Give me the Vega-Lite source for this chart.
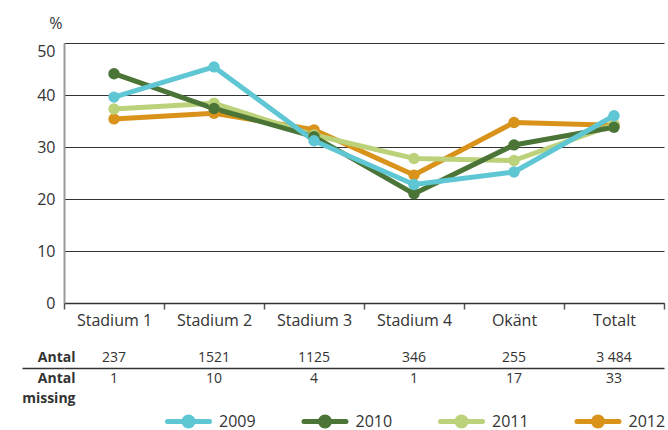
{
  "$schema": "https://vega.github.io/schema/vega-lite/v6.json",
  "padding": {"left": 21, "top": 15, "right": 0, "bottom": 0},
  "config": {
    "font": "Open Sans",
    "view": {"stroke": null},
    "axis": {"labelColor": "#333", "titleColor": "#333"},
    "text": {"color": "#333"}
  },
  "datasets": {
    "lines": [
      {"stage": "Stadium 1", "year": "2012", "pct": 35.4},
      {"stage": "Stadium 2", "year": "2012", "pct": 36.5},
      {"stage": "Stadium 3", "year": "2012", "pct": 33.3},
      {"stage": "Stadium 4", "year": "2012", "pct": 24.6},
      {"stage": "Okänt", "year": "2012", "pct": 34.7},
      {"stage": "Totalt", "year": "2012", "pct": 34.2},
      {"stage": "Stadium 1", "year": "2011", "pct": 37.3},
      {"stage": "Stadium 2", "year": "2011", "pct": 38.4},
      {"stage": "Stadium 3", "year": "2011", "pct": 32.3},
      {"stage": "Stadium 4", "year": "2011", "pct": 27.8},
      {"stage": "Okänt", "year": "2011", "pct": 27.4},
      {"stage": "Totalt", "year": "2011", "pct": 34.3},
      {"stage": "Stadium 1", "year": "2010", "pct": 44.1},
      {"stage": "Stadium 2", "year": "2010", "pct": 37.4},
      {"stage": "Stadium 3", "year": "2010", "pct": 32.0},
      {"stage": "Stadium 4", "year": "2010", "pct": 21.0},
      {"stage": "Okänt", "year": "2010", "pct": 30.4},
      {"stage": "Totalt", "year": "2010", "pct": 33.8},
      {"stage": "Stadium 1", "year": "2009", "pct": 39.6},
      {"stage": "Stadium 2", "year": "2009", "pct": 45.4},
      {"stage": "Stadium 3", "year": "2009", "pct": 31.2},
      {"stage": "Stadium 4", "year": "2009", "pct": 22.8},
      {"stage": "Okänt", "year": "2009", "pct": 25.2},
      {"stage": "Totalt", "year": "2009", "pct": 36.0}
    ],
    "table": [
      {"stage": "Stadium 1", "row": "Antal", "value": "237"},
      {"stage": "Stadium 2", "row": "Antal", "value": "1521"},
      {"stage": "Stadium 3", "row": "Antal", "value": "1125"},
      {"stage": "Stadium 4", "row": "Antal", "value": "346"},
      {"stage": "Okänt", "row": "Antal", "value": "255"},
      {"stage": "Totalt", "row": "Antal", "value": "3 484"},
      {"stage": "Stadium 1", "row": "Antal missing", "value": "1"},
      {"stage": "Stadium 2", "row": "Antal missing", "value": "10"},
      {"stage": "Stadium 3", "row": "Antal missing", "value": "4"},
      {"stage": "Stadium 4", "row": "Antal missing", "value": "1"},
      {"stage": "Okänt", "row": "Antal missing", "value": "17"},
      {"stage": "Totalt", "row": "Antal missing", "value": "33"}
    ]
  },
  "spacing": 22,
  "vconcat": [
    {
      "width": 600,
      "height": 260,
      "data": {"name": "lines"},
      "encoding": {
        "x": {
          "field": "stage", "type": "nominal",
          "sort": ["Stadium 1", "Stadium 2", "Stadium 3", "Stadium 4", "Okänt", "Totalt"],
          "scale": {"type": "band", "paddingInner": 0, "paddingOuter": 0},
          "axis": {
            "title": null, "labelAngle": 0, "labelFontSize": 16, "labelBaseline": "top",
            "labelPadding": 3, "tickBand": "extent", "tickSize": 6, "tickColor": "#555",
            "tickWidth": 1.5, "domainColor": "#333", "domainWidth": 1.5
          }
        },
        "y": {
          "field": "pct", "type": "quantitative",
          "scale": {"domain": [0, 50], "nice": false},
          "axis": {
            "title": "%", "titleAngle": 0, "titleAlign": "right", "titleBaseline": "middle",
            "titleX": -2, "titleY": -20, "titleFontSize": 16, "titleFontWeight": "normal",
            "values": [0, 10, 20, 30, 40, 50], "labelFontSize": 16, "labelPadding": 9,
            "labelBaseline": {"condition": {"test": "datum.value == 50", "value": "top"}, "value": "middle"},
            "ticks": false, "domainColor": "#999", "domainWidth": 2,
            "grid": true, "gridColor": "#333", "gridWidth": 1
          }
        },
        "color": {
          "field": "year", "type": "nominal",
          "scale": {"domain": ["2009", "2010", "2011", "2012"], "range": ["#5fc6d4", "#4b7437", "#bcd27a", "#d9931a"]},
          "legend": {
            "orient": "none", "legendX": 112, "legendY": 366, "direction": "horizontal", "title": null,
            "symbolType": "M-2.1,0H2.1M-0.45,0A0.45,0.45 0 1,0 0.45,0A0.45,0.45 0 1,0 -0.45,0Z",
            "symbolSize": 400, "symbolStrokeWidth": 5, "labelFontSize": 16, "labelOffset": 18,
            "columnPadding": 37.5, "labelColor": "#333",
            "encode": {"symbols": {"update": {
              "fill": {"scale": "color", "field": "value"},
              "stroke": {"scale": "color", "field": "value"},
              "strokeCap": {"value": "round"}, "opacity": {"value": 1}
            }}}
          }
        }
      },
      "layer": [
        {"mark": {"type": "line", "strokeWidth": 5, "strokeJoin": "round"}},
        {"mark": {"type": "point", "filled": true, "size": 130, "opacity": 1, "shape": "circle"}}
      ]
    },
    {
      "width": 600,
      "height": 51.25,
      "data": {"name": "table"},
      "mark": {"type": "text", "fontSize": 14, "color": "#333"},
      "encoding": {
        "x": {
          "field": "stage", "type": "nominal",
          "sort": ["Stadium 1", "Stadium 2", "Stadium 3", "Stadium 4", "Okänt", "Totalt"],
          "scale": {"type": "band", "paddingInner": 0, "paddingOuter": 0},
          "axis": null
        },
        "y": {
          "field": "row", "type": "nominal",
          "scale": {"type": "band", "domain": ["Antal", "sep", "Antal missing", "gap", "missing"], "paddingInner": 0, "paddingOuter": 0},
          "axis": {
            "title": null, "values": ["sep"],
            "labelExpr": "['Antal', 'Antal', 'missing']",
            "labelFontSize": 14, "labelFontWeight": "bold", "labelAlign": "right",
            "labelBaseline": "middle", "labelLineHeight": 20.5, "labelOffset": -10.25,
            "labelPadding": -53, "tickSize": 42, "tickColor": "#333", "tickWidth": 1.5,
            "grid": true, "gridColor": "#333", "gridWidth": 1.5, "domain": false
          }
        },
        "text": {"field": "value", "type": "nominal"}
      }
    }
  ]
}
